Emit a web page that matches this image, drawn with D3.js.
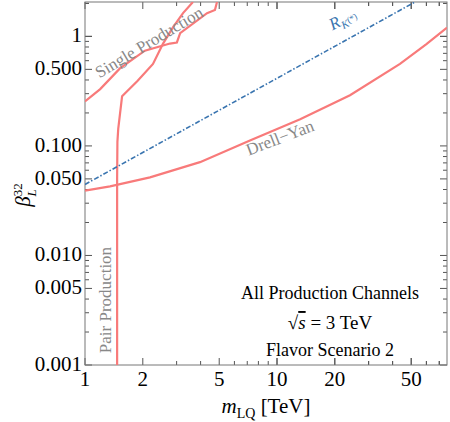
<!DOCTYPE html><html><head><script src="https://cdn.jsdelivr.net/npm/d3@7"></script>
<style>body{margin:0;background:#fff}text{font-family:"Liberation Serif","Times New Roman",Times,serif}</style></head><body><svg id="c" width="450" height="422"></svg><script>
const xTicks=[1,2,5,10,20,50];
const yTicks=[0.001,0.005,0.010,0.050,0.100,0.500,1];
const yTickLabels=["0.001","0.005","0.010","0.050","0.100","0.500","1"];
const drellYan=[[1,0.039],[1.35,0.0427],[2.18,0.0516],[3.97,0.0711],[7.23,0.112],[13.2,0.175],[24,0.29],[43.7,0.56],[60,0.85],[76.8,1.2]];
const singleProd=[[1,0.255],[1.2,0.33],[1.52,0.51],[2.05,0.74],[2.77,0.86],[3.01,0.88],[3.13,1.07],[4.32,1.63],[4.75,1.74],[4.87,2.06]];
const pairProd=[[1.47,0.001],[1.47,0.05],[1.475,0.109],[1.49,0.144],[1.56,0.284],[1.87,0.39],[2.26,0.56],[2.55,0.86],[2.87,1.21],[3.24,1.63],[3.65,2.06]];
const rk=[[1,0.0445],[52.3,2.06]];
const svg=d3.select("#c");
const L=85,R=447,T=2,B=365;
const x=d3.scaleLog().domain([1,76.8]).range([L,R]);
const y=d3.scaleLog().domain([0.001,2.06]).range([B,T]);
const g=svg.append("g");
g.append("defs").append("clipPath").attr("id","cp").append("rect").attr("x",L).attr("y",T).attr("width",R-L).attr("height",B-T);
const xMinor=[];for(let d=1;d<=10;d*=10)for(let k=1;k<10;k++){const v=k*d;if(v<=76.8)xMinor.push(v);}
for(let k=1;k<=7;k++)xMinor.push(k*10);
const yMinor=[];for(let d=0.001;d<=1;d*=10)for(let k=1;k<10;k++){const v=k*d;if(v<=2.06)yMinor.push(v);}
yMinor.push(1,2);
const tc="#555";
xMinor.forEach(v=>{const big=xTicks.includes(Math.round(v*100)/100);const l=big?7:4;
 g.append("line").attr("x1",x(v)).attr("x2",x(v)).attr("y1",B).attr("y2",B-l).attr("stroke",tc);
 g.append("line").attr("x1",x(v)).attr("x2",x(v)).attr("y1",T).attr("y2",T+l).attr("stroke",tc);});
yMinor.forEach(v=>{const big=yTicks.some(t=>Math.abs(t-v)/t<1e-6);const l=big?7:4;
 g.append("line").attr("y1",y(v)).attr("y2",y(v)).attr("x1",L).attr("x2",L+l).attr("stroke",tc);
 g.append("line").attr("y1",y(v)).attr("y2",y(v)).attr("x1",R).attr("x2",R-l).attr("stroke",tc);});
g.append("rect").attr("x",L).attr("y",T).attr("width",R-L).attr("height",B-T).attr("fill","none").attr("stroke","#777");
xTicks.forEach(v=>g.append("text").attr("x",x(v)).attr("y",B+21).attr("text-anchor","middle").attr("font-size",21).text(v));
yTicks.forEach((v,i)=>g.append("text").attr("x",L-3).attr("y",y(v)+6).attr("text-anchor","end").attr("font-size",21).text(yTickLabels[i]));
const line=d3.line().x(d=>x(d[0])).y(d=>y(d[1]));
const cg=g.append("g").attr("clip-path","url(#cp)");
[drellYan,singleProd,pairProd].forEach(d=>cg.append("path").attr("d",line(d)).attr("fill","none").attr("stroke","#f87a7a").attr("stroke-width",2.2));
cg.append("path").attr("d",line(rk)).attr("fill","none").attr("stroke","#3a75b0").attr("stroke-width",1.6).attr("stroke-dasharray","5,2,1.5,2");
const lab=(t,px,py,rot,opt={})=>{const e=g.append("text").attr("transform",`translate(${px},${py}) rotate(${rot})`).attr("text-anchor","middle").attr("font-size",opt.fs||17).attr("fill",opt.fill||"#888");return e.text(t);};
lab("Single Production",152,47,-31);
lab("Drell−Yan",282,143,-21);
const rkl=g.append("text").attr("transform","translate(345,24) rotate(-27)").attr("text-anchor","middle").attr("font-size",17).attr("fill","#3a75b0").attr("font-style","italic");
rkl.append("tspan").text("R");rkl.append("tspan").attr("font-size",11).attr("dy",4).text("K");rkl.append("tspan").attr("font-size",9).attr("dy",-3).attr("font-style","normal").text("(*)");
lab("Pair Production",111,300,-90);
["All Production Channels","Flavor Scenario 2"].forEach((t,i)=>g.append("text").attr("x",330).attr("y",[299,356][i]).attr("text-anchor","middle").attr("font-size",18).text(t));
const s=g.append("text").attr("x",330).attr("y",329).attr("text-anchor","middle").attr("font-size",19);
s.append("tspan").text("√");s.append("tspan").attr("font-style","italic").attr("text-decoration","overline").text("s");s.append("tspan").text("  = 3 TeV");
const xl=g.append("text").attr("x",266).attr("y",413).attr("text-anchor","middle").attr("font-size",21);
xl.append("tspan").attr("font-style","italic").text("m");xl.append("tspan").attr("font-size",14).attr("dy",5).text("LQ");xl.append("tspan").attr("dy",-5).text(" [TeV]");
const yl=g.append("text").attr("transform","translate(30,195) rotate(-90)").attr("text-anchor","middle").attr("font-size",21);
yl.append("tspan").attr("font-style","italic").text("β");yl.append("tspan").attr("font-size",13).attr("dy",6).attr("font-style","italic").text("L");yl.append("tspan").attr("font-size",13).attr("dy",-14).attr("dx",-7).text("32");
</script></body></html>
